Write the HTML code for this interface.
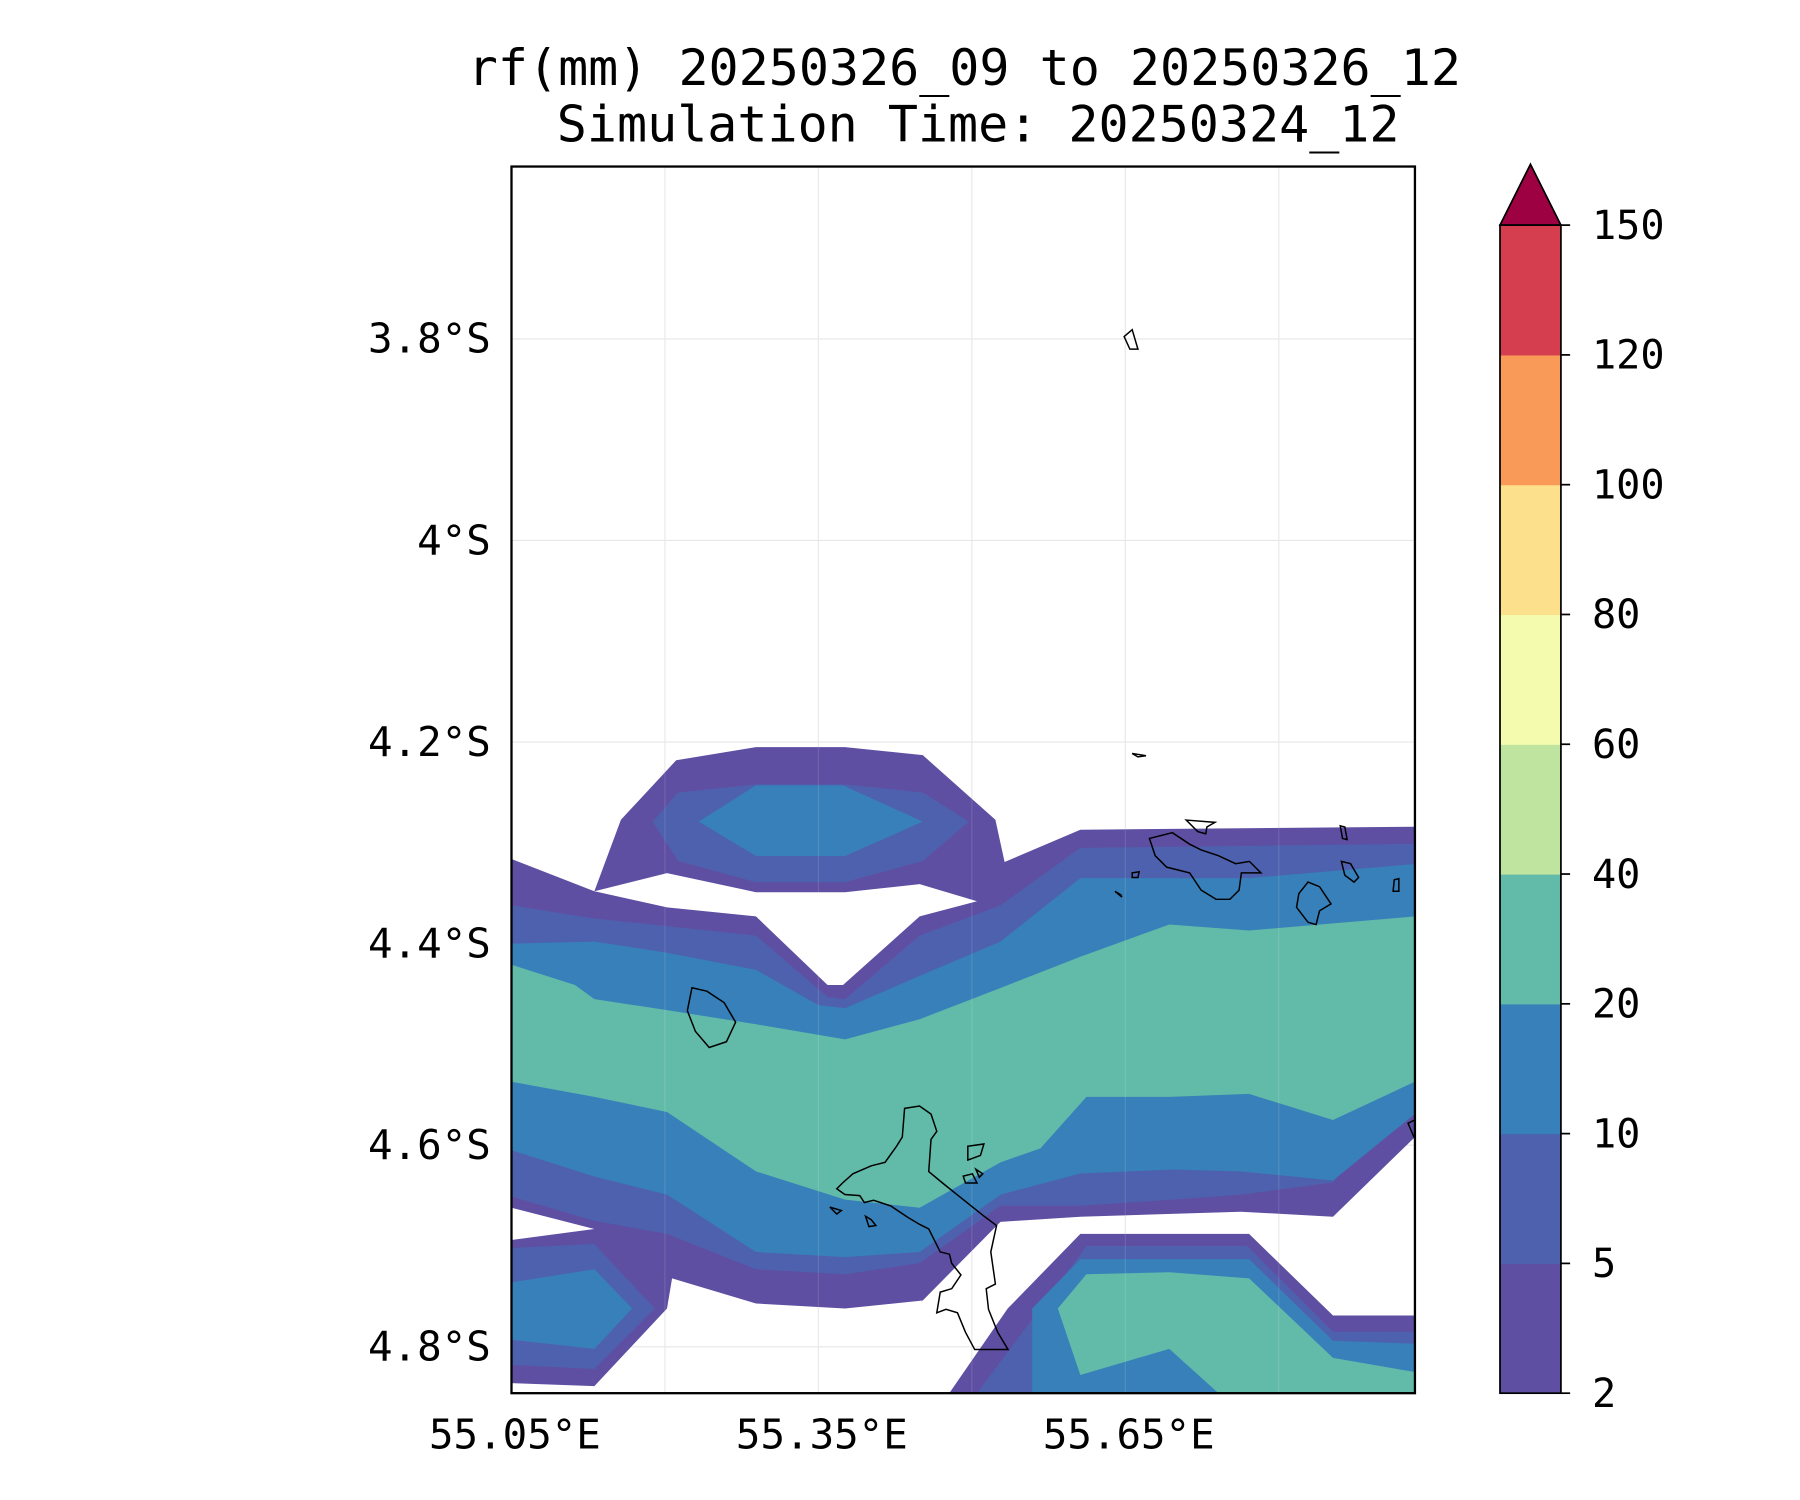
<!DOCTYPE html>
<html><head><meta charset="utf-8"><style>
html,body{margin:0;padding:0;background:#fff;}
svg{display:block;}
text{font-family:"DejaVu Sans Mono","Liberation Mono",monospace;fill:#000;}
</style></head><body>
<svg id="chart" width="1800" height="1500" viewBox="0 0 1566 1306" preserveAspectRatio="none" xmlns="http://www.w3.org/2000/svg">
<text x="839" y="74" font-size="43.5" text-anchor="middle">rf(mm) 20250326_09 to 20250326_12</text>
<text x="851" y="123" font-size="43.5" text-anchor="middle">Simulation Time: 20250324_12</text>
<defs><clipPath id="plotclip"><rect x="445" y="145" width="786" height="1068"/></clipPath></defs>
<g id="grid"></g>
<g id="contours" clip-path="url(#plotclip)"></g>
<g id="coast" fill="none" stroke="#000" stroke-width="1.3" clip-path="url(#plotclip)">
<path d="M787,965 L800,963 810,970 815,985 810,992 808,1020 820,1030 835,1042 855,1058 867,1067 862,1090 866,1118 858,1122 860,1140 868,1160 877,1175 848,1175 840,1160 833,1143 823,1140 815,1143 818,1125 828,1122 836,1110 828,1100 826,1092 818,1090 808,1070 800,1066 790,1060 775,1050 760,1045 752,1047 748,1041 735,1040 728,1035 733,1030 742,1022 758,1015 770,1012 780,998 785,990 Z"/>
<path d="M602,860 L615,863 630,873 640,890 632,907 617,912 605,898 598,880 Z"/>
<path d="M1000,730 L1020,725 1035,735 1045,740 1060,745 1075,752 1087,750 1097,760 1080,760 1078,775 1070,783 1058,783 1045,775 1035,760 1015,755 1005,745 Z"/>
<path d="M1138,768 L1148,772 1158,787 1148,793 1145,805 1138,803 1128,790 1130,778 Z"/>
<path d="M1032,714 L1057,716 1050,720 1049,726 1042,724 Z M1167,750 L1175,752 1182,764 1178,768 1170,762 Z M1213,766 L1217,765 1217,776 1212,776 Z M1166,719 L1170,720 1172,731 1168,730 Z M978,293 L985,287 990,304 983,304 Z M985,656 L997,658 990,659 Z M985,760 L991,759 990,764 985,764 Z M970,776 L975,779 976,781 Z M842,998 L856,996 853,1006 842,1010 Z M838,1024 L846,1022 850,1030 840,1030 Z M849,1018 L855,1022 852,1025 Z M722,1051 L732,1054 728,1057 Z M753,1059 L758,1062 762,1067 756,1068 Z M1225,978 L1231,975 1231,992 Z"/>
</g>
<rect x="445" y="145" width="786" height="1068" fill="none" stroke="#000" stroke-width="2"/>
<g id="ticks"></g>
<g id="cbar"></g>
<script>
const lonTicks=[55.05,55.35,55.65];
const lonGrid=[55.05,55.2,55.35,55.5,55.65,55.8];
const latTicks=[3.8,4.0,4.2,4.4,4.6,4.8];
const latLabels=["3.8°S","4°S","4.2°S","4.4°S","4.6°S","4.8°S"];
const lonLabels=["55.05°E","55.35°E","55.65°E"];
const levels=[2,5,10,20,40,60,80,100,120,150];
const levelColors=["#5e4fa2","#4e61ae","#3880b9","#62bba9","#bee4a0","#f4fbae","#fde08b","#f99a58","#d53e4f"];
const extendColor="#9e0142";
const lvl0Main=[[55.050,4.316],[55.131,4.348],[55.157,4.277],[55.211,4.218],[55.289,4.205],[55.376,4.205],[55.452,4.213],[55.523,4.277],[55.532,4.319],[55.606,4.287],[55.933,4.284],[55.933,4.592],[55.853,4.671],[55.763,4.666],[55.606,4.671],[55.528,4.676],[55.452,4.754],[55.376,4.762],[55.289,4.757],[55.207,4.732],[55.202,4.762],[55.131,4.839],[55.050,4.836],[55.050,4.694],[55.131,4.683],[55.050,4.662]];
const lvl0Hole=[[55.131,4.348],[55.202,4.330],[55.289,4.349],[55.376,4.349],[55.449,4.341],[55.505,4.358],[55.449,4.373],[55.374,4.441],[55.359,4.441],[55.289,4.373],[55.202,4.364]];
const lvl0SE=[[55.478,4.846],[55.535,4.762],[55.606,4.688],[55.771,4.688],[55.853,4.769],[55.933,4.769],[55.933,4.846]];
const lvl1Blob=[[55.188,4.279],[55.213,4.250],[55.289,4.242],[55.376,4.242],[55.452,4.250],[55.497,4.279],[55.452,4.318],[55.376,4.339],[55.289,4.339],[55.213,4.318]];
const lvl1Band=[[55.050,4.362],[55.131,4.375],[55.289,4.392],[55.359,4.453],[55.376,4.455],[55.449,4.392],[55.528,4.362],[55.606,4.305],[55.933,4.301],[55.933,4.569],[55.887,4.597],[55.853,4.637],[55.763,4.649],[55.696,4.654],[55.606,4.660],[55.528,4.660],[55.449,4.717],[55.376,4.728],[55.289,4.723],[55.202,4.688],[55.131,4.675],[55.050,4.651]];
const lvl1SW=[[55.050,4.702],[55.131,4.698],[55.190,4.762],[55.131,4.822],[55.050,4.818]];
const lvl1SE=[[55.505,4.846],[55.550,4.785],[55.612,4.700],[55.769,4.700],[55.853,4.785],[55.933,4.785],[55.933,4.846]];
const lvl2Blob=[[55.233,4.279],[55.289,4.243],[55.374,4.243],[55.452,4.279],[55.376,4.313],[55.289,4.313]];
const lvl2Band=[[55.050,4.400],[55.131,4.398],[55.202,4.409],[55.289,4.426],[55.350,4.461],[55.376,4.464],[55.449,4.432],[55.528,4.398],[55.606,4.335],[55.771,4.335],[55.933,4.321],[55.933,4.569],[55.853,4.635],[55.763,4.626],[55.696,4.624],[55.606,4.628],[55.528,4.649],[55.449,4.706],[55.376,4.711],[55.289,4.706],[55.202,4.649],[55.131,4.631],[55.050,4.605]];
const lvl2SW=[[55.050,4.736],[55.131,4.723],[55.168,4.762],[55.131,4.802],[55.050,4.793]];
const lvl2SE=[[55.559,4.846],[55.559,4.762],[55.606,4.713],[55.771,4.713],[55.853,4.794],[55.933,4.797],[55.933,4.846]];
const lvl3Band=[[55.050,4.421],[55.112,4.441],[55.131,4.455],[55.202,4.466],[55.289,4.480],[55.376,4.495],[55.449,4.475],[55.528,4.444],[55.606,4.413],[55.693,4.381],[55.771,4.387],[55.933,4.373],[55.933,4.537],[55.853,4.575],[55.771,4.549],[55.693,4.552],[55.612,4.552],[55.567,4.603],[55.528,4.617],[55.449,4.662],[55.376,4.654],[55.289,4.626],[55.202,4.567],[55.131,4.552],[55.050,4.537]];
const lvl3SE=[[55.584,4.762],[55.612,4.728],[55.693,4.726],[55.771,4.732],[55.853,4.811],[55.933,4.825],[55.933,4.846],[55.741,4.846],[55.693,4.802],[55.606,4.828]];
const polys=[[0,lvl0Main],[-1,lvl0Hole],[0,lvl0SE],[1,lvl1Blob],[1,lvl1Band],[1,lvl1SW],[1,lvl1SE],[2,lvl2Blob],[2,lvl2Band],[2,lvl2SW],[2,lvl2SE],[3,lvl3Band],[3,lvl3SE]];
const NS="http://www.w3.org/2000/svg";
const X0=445,X1=1231,Y0=145,Y1=1213;
const lonMin=55.05,lonMax=55.9331,latMin=3.629,latMax=4.846;
function xs(lon){return X0+(lon-lonMin)/(lonMax-lonMin)*(X1-X0);}
function ys(lat){return Y0+(lat-latMin)/(latMax-latMin)*(Y1-Y0);}
function mk(t,a,parent){const e=document.createElementNS(NS,t);for(const k in a)e.setAttribute(k,a[k]);parent.appendChild(e);return e;}
const grid=document.getElementById('grid');
lonGrid.forEach(v=>{const l=mk('line',{x1:xs(v),x2:xs(v),y1:Y0,y2:Y1,stroke:'#e6e6e6','stroke-width':1},grid);

});
latTicks.forEach(v=>{const l=mk('line',{x1:X0,x2:X1,y1:ys(v),y2:ys(v),stroke:'#e6e6e6','stroke-width':1},grid);

});
const cg=document.getElementById('contours');
polys.forEach(([li,pts])=>{const p=mk('polygon',{points:pts.map(q=>xs(q[0]).toFixed(1)+','+ys(q[1]).toFixed(1)).join(' '),fill:li<0?'#fff':levelColors[li]},cg);

});
lonGrid.forEach(v=>{const l=mk('line',{x1:xs(v),x2:xs(v),y1:Y0,y2:Y1,stroke:'#ffffff','stroke-opacity':0.12,'stroke-width':1},cg);

});
const tg=document.getElementById('ticks');
latTicks.forEach((v,i)=>{const t=mk('text',{x:427,y:ys(v)+12,'font-size':35.5,'text-anchor':'end'},tg);t.textContent=latLabels[i];

});
lonTicks.forEach((v,i)=>{const t=mk('text',{x:xs(v)+3,y:1261,'font-size':35.5,'text-anchor':'middle'},tg);t.textContent=lonLabels[i];

});
const cb=document.getElementById('cbar');
const CX0=1305,CX1=1358,CT=196,CB=1213,n=levels.length-1,bh=(CB-CT)/n;
levelColors.forEach((c,i)=>{const r=mk('rect',{x:CX0,y:CB-(i+1)*bh,width:CX1-CX0,height:bh+0.5,fill:c},cb);

});
const tri=mk('polygon',{points:`${CX0},${CT} ${(CX0+CX1)/2},143 ${CX1},${CT}`,fill:extendColor,stroke:'#000','stroke-width':1.5},cb);


const fr=mk('rect',{x:CX0,y:CT,width:CX1-CX0,height:CB-CT,fill:'none',stroke:'#000','stroke-width':1.5},cb);


levels.forEach((v,i)=>{const y=CB-i*bh;
const tk=mk('line',{x1:CX1,x2:CX1+8,y1:y,y2:y,stroke:'#000','stroke-width':1.5},cb);


const t=mk('text',{x:1385,y:y+12,'font-size':35},cb);t.textContent=v;

});
</script>
</svg>
</body></html>
